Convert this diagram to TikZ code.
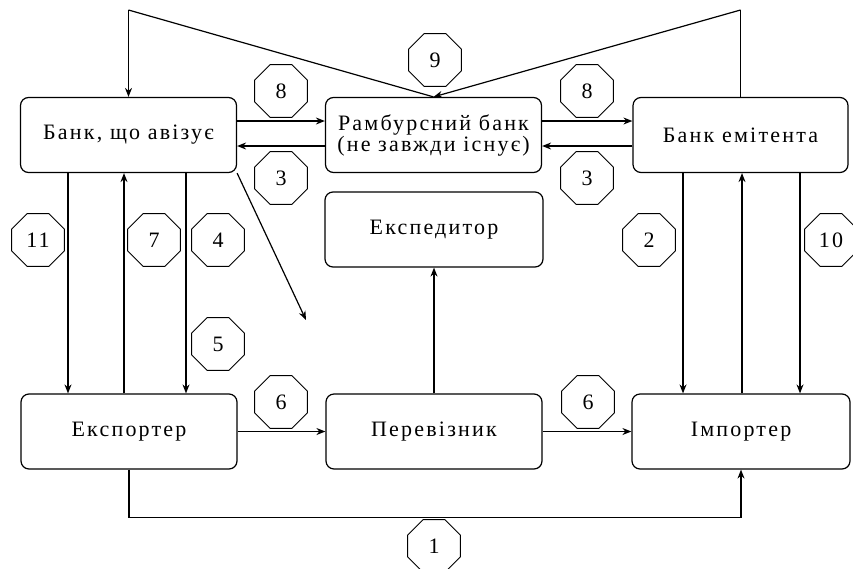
\documentclass[tikz,border=0pt]{standalone}
\usepackage{fontspec}
\setmainfont[LetterSpace=10]{Liberation Serif}
\usetikzlibrary{shapes.geometric,arrows.meta}
\begin{document}
\begin{tikzpicture}[x=1pt,y=-1pt,
  box/.style={draw,line width=1.2pt,rounded corners=8pt,minimum width=216pt,minimum height=75pt,inner sep=0pt,align=center,font=\fontsize{22}{21}\selectfont},
  oct/.style={draw,line width=1pt,regular polygon,regular polygon sides=8,minimum size=57pt,inner sep=0pt,font=\fontsize{22}{22}\selectfont},
  arr/.style={line width=1.2pt,-{Stealth[length=9pt,width=7pt]}},
  ln/.style={line width=1.2pt}]
\useasboundingbox (0,0) rectangle (853,568);
% boxes
\node[box] (avz) at (128.5,135) {Банк, що авізує};
\node[box] (ramb) at (433.5,135) {Рамбурсний банк\\(не завжди існує)};
\node[box,minimum width=215pt] (emit) at (740.5,135) {Банк емітента};
\node[box,minimum width=218pt] (exped) at (434,229.5) {Експедитор};
\node[box] (eksp) at (129,431.5) {Експортер};
\node[box] (perev) at (434,431.5) {Перевізник};
\node[box,minimum width=218pt] (imp) at (741,431.5) {Імпортер};
% labels
\node[oct] (n9) at (435,60) {9};
\node[oct] (n8a) at (281,91) {8};
\node[oct] (n8b) at (587,91) {8};
\node[oct] (n3a) at (281,178) {3};
\node[oct] (n3b) at (587,178) {3};
\node[oct] (n11) at (38,240) {11};
\node[oct] (n7) at (154,240) {7};
\node[oct] (n4) at (218,240) {4};
\node[oct] (n5) at (218,344) {5};
\node[oct] (n2) at (649,240) {2};
\node[oct] (n10) at (831,240) {10};
\node[oct] (n6a) at (281,402) {6};
\node[oct] (n6b) at (588,402) {6};
\node[oct] (n1) at (434,546) {1};
% top connectors
\coordinate (tl) at (128.5,10);
\coordinate (tr) at (740.5,10);
\draw[arr] (tl) -- (avz.north);
\draw[ln] (tl) -- (ramb.north);
\draw[arr] (tr) -- (ramb.north);
\draw[ln] (tr) -- (emit.north);
% horizontal top
\draw[arr] ([yshift=14pt]avz.east) -- ([yshift=14pt]ramb.west);
\draw[arr] ([yshift=-11pt]ramb.west) -- ([yshift=-11pt]avz.east);
\draw[arr] ([yshift=14pt]ramb.east) -- ([yshift=14pt]emit.west);
\draw[arr] ([yshift=-11pt]emit.west) -- ([yshift=-11pt]ramb.east);
% left verticals
\draw[arr] ([xshift=-60.5pt]avz.south) -- ([xshift=-61pt]eksp.north);
\draw[arr] ([xshift=-5pt]eksp.north) -- ([xshift=-4.5pt]avz.south);
\draw[arr] ([xshift=57.5pt]avz.south) -- ([xshift=57pt]eksp.north);
% diagonal
\coordinate (dg) at (306,320);
\draw[arr] (avz.south east) -- (dg);
% right verticals
\draw[arr] ([xshift=-57.5pt]emit.south) -- ([xshift=-58pt]imp.north);
\draw[arr] ([xshift=1pt]imp.north) -- ([xshift=1.5pt]emit.south);
\draw[arr] ([xshift=59.5pt]emit.south) -- ([xshift=59pt]imp.north);
% middle
\draw[arr] (perev.north) -- (exped.south);
\draw[arr] (eksp.east) -- (perev.west);
\draw[arr] (perev.east) -- (imp.west);
% bottom
\draw[arr] (eksp.south) -- ++(0,48) -| (imp.south);
\end{tikzpicture}
\end{document}
